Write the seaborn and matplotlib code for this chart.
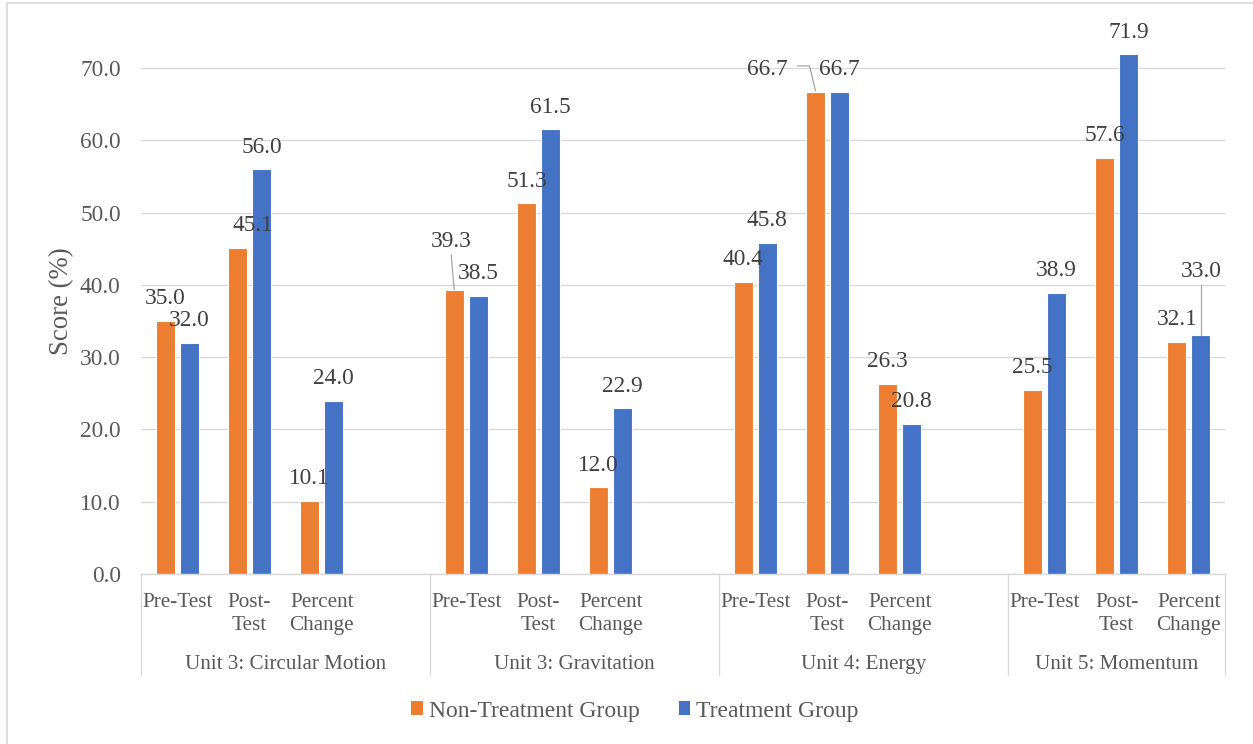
import matplotlib
matplotlib.use("Agg")
import matplotlib.pyplot as plt
from matplotlib.patches import Patch, Rectangle
from matplotlib.lines import Line2D
import matplotlib.transforms as mtransforms
import seaborn as sns
import pandas as pd

# ---- data -------------------------------------------------------------
units = ["Unit 3: Circular Motion", "Unit 3: Gravitation", "Unit 4: Energy", "Unit 5: Momentum"]
measures = ["Pre-Test", "Post-Test", "Percent Change"]
measure_labels = ["Pre-Test", "Post-\nTest", "Percent\nChange"]
groups = ["Non-Treatment Group", "Treatment Group"]
non_treatment = [35.0, 45.1, 10.1, 39.3, 51.3, 12.0, 40.4, 66.7, 26.3, 25.5, 57.6, 32.1]
treatment = [32.0, 56.0, 24.0, 38.5, 61.5, 22.9, 45.8, 66.7, 20.8, 38.9, 71.9, 33.0]
y_ticks = [0, 10, 20, 30, 40, 50, 60, 70]

colors = ["#ED7D31", "#4472C4"]
GRID = "#D9D9D9"
TICK_TXT = "#595959"
LABEL_TXT = "#404040"

# ---- long table -------------------------------------------------------
rows = []
for g, vals in zip(groups, [non_treatment, treatment]):
    for i, v in enumerate(vals):
        rows.append({"unit": units[i // 3], "measure": measures[i % 3],
                     "group": g, "score": v})
df = pd.DataFrame(rows)
df["slot"] = df["unit"] + " | " + df["measure"]

# category order with an empty spacer slot between units
order, tick_text, slot_meta = [], [], []
for ui, u in enumerate(units):
    for m, ml in zip(measures, measure_labels):
        order.append(f"{u} | {m}")
        tick_text.append(ml)
        slot_meta.append((u, m))
    if ui < len(units) - 1:
        order.append(f"{u} | ")
        tick_text.append("")
        slot_meta.append((u, None))

# ---- figure -----------------------------------------------------------
sns.set_style("white")
plt.rcParams["font.family"] = ["Liberation Serif", "DejaVu Serif"]

W, H = 1253, 744
fig = plt.figure(figsize=(W / 100, H / 100), dpi=100)
y_top = 75.5
px_per_unit = (574 - 68) / 70
ax_h = y_top * px_per_unit
ax = fig.add_axes([141 / W, (H - 574) / H, 1084 / W, ax_h / H])

sns.barplot(data=df, x="slot", y="score", hue="group", order=order,
            hue_order=groups, palette=colors, width=0.664, gap=0.21,
            edgecolor="white", linewidth=0.8, errorbar=None, legend=False,
            saturation=1, ax=ax)

ax.set_xlim(-0.5, len(order) - 0.5)
ax.set_ylim(0, y_top)
ax.set_yticks(y_ticks)
ax.set_yticklabels([f"{t:.1f}" for t in y_ticks], fontsize=16.8, color=TICK_TXT)
ax.set_xticks(range(len(order)))
ax.set_xticklabels(tick_text, fontsize=15.2, color=TICK_TXT, linespacing=1.28,
                   ha="center", va="top")
ax.tick_params(axis="x", length=0, pad=14)
ax.tick_params(axis="y", length=0, pad=14.6)
ax.set_xlabel("")
ax.set_ylabel("Score (%)", fontsize=19.3, color=TICK_TXT, labelpad=4)

ax.yaxis.grid(True, color=GRID, lw=1.0)
ax.xaxis.grid(False)
ax.set_axisbelow(True)
for s in ["left", "right", "top"]:
    ax.spines[s].set_visible(False)
ax.spines["bottom"].set_color(GRID)
ax.spines["bottom"].set_linewidth(1.0)

# ---- multi-level category axis -----------------------------------------
xaxis_tr = ax.get_xaxis_transform()
div_depth = 101 / ax_h
bounds = [-0.5]
for i, (u, m) in enumerate(slot_meta):
    if m is None:
        bounds.append(i + 0.5)
bounds.append(len(order) - 0.5)
for b in bounds:
    ax.add_line(Line2D([b, b], [0, -div_depth], transform=xaxis_tr,
                       color=GRID, lw=1.0, clip_on=False))
group_tr = mtransforms.offset_copy(xaxis_tr, fig=fig, y=-95, units="dots")
for u, lo, hi in zip(units, bounds[:-1], bounds[1:]):
    ax.text((lo + hi) / 2, 0, u, transform=group_tr, ha="center",
            va="baseline", fontsize=15.2, color=TICK_TXT)

# ---- data labels -------------------------------------------------------
# pixel nudges (dx, dy) for labels that sit away from their bar
label_nudge = {
    ("Non-Treatment Group", "Unit 3: Circular Motion", "Post-Test"): (15, 0),
    ("Non-Treatment Group", "Unit 3: Gravitation", "Pre-Test"): (-3, 26.5),
    ("Non-Treatment Group", "Unit 4: Energy", "Post-Test"): (-48, 0),
    ("Treatment Group", "Unit 5: Momentum", "Percent Change"): (0, 42),
}
# leader lines as pixel offsets from the bar's top centre
leaders = {
    ("Non-Treatment Group", "Unit 3: Gravitation", "Pre-Test"): [(-3, 35), (0, 0)],
    ("Non-Treatment Group", "Unit 4: Energy", "Post-Test"): [(-18, 26), (-6, 26), (0, 1)],
    ("Treatment Group", "Unit 5: Momentum", "Percent Change"): [(0, 50), (0, 0)],
}


def px_offset(x, y, dx, dy):
    d = ax.transData.transform((x, y))
    return ax.transData.inverted().transform((d[0] + dx, d[1] + dy))


for g, container in zip(groups, ax.containers):
    for bar in container:
        h = bar.get_height()
        if h != h:  # empty slot
            continue
        xc = bar.get_x() + bar.get_width() / 2
        u, m = slot_meta[int(round(xc))]
        key = (g, u, m)
        dx, dy = label_nudge.get(key, (0, 0))
        ax.annotate(f"{h:.1f}", xy=(xc, h), xytext=(dx, 16.5 + dy),
                    textcoords="offset pixels", ha="center", va="baseline",
                    fontsize=16.8, color=LABEL_TXT, annotation_clip=False)
        if key in leaders:
            pts = [px_offset(xc, h, px, py) for px, py in leaders[key]]
            ax.add_line(Line2D([p[0] for p in pts], [p[1] for p in pts],
                               color="#A6A6A6", lw=0.9, clip_on=False))

# ---- legend ------------------------------------------------------------
handles = [Patch(facecolor=c, edgecolor="none") for c in colors]
fig.legend(handles, groups, loc="center", bbox_to_anchor=(635 / W, 1 - 711 / H),
           ncol=2, frameon=False, fontsize=17, handlelength=0.5,
           handleheight=0.5, handletextpad=0.25, columnspacing=1.65,
           labelcolor=TICK_TXT)

# chart-area border
fig.add_artist(Rectangle((7 / W, -0.05), 1.1, 1.05 - 3 / H, transform=fig.transFigure,
                         fill=False, edgecolor=GRID, lw=1.3))

fig.savefig("out.png", dpi=100)
